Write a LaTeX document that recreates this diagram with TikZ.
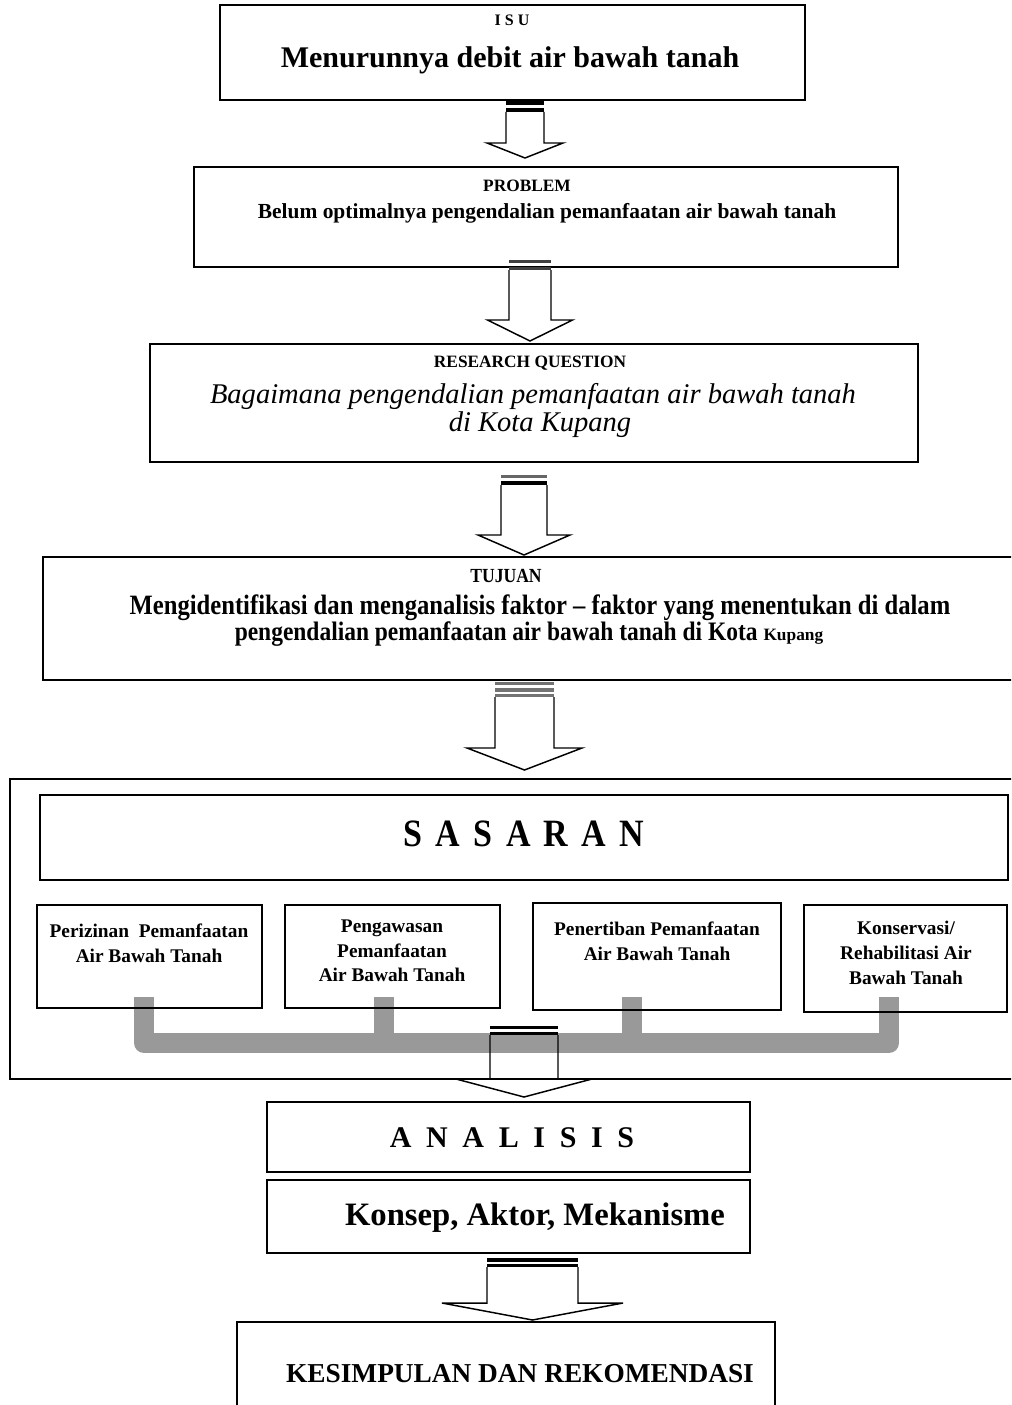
\documentclass[tikz,border=0pt]{standalone}
\usepackage{fontspec}
\setmainfont{Liberation Serif}
\newfontfamily\condserif[FakeStretch=0.88]{Liberation Serif}
\usetikzlibrary{fit,calc}
\definecolor{bracketgray}{RGB}{153,153,153}

% block arrow: centre x, top of shaft, neck, tip, half shaft width, half head width
\newcommand\fatarrow[6]{%
  \draw[arrowline] (#1-#5,#2) -- (#1-#5,#3) -- (#1-#6,#3) -- (#1,#4)
    -- (#1+#6,#3) -- (#1+#5,#3) -- (#1+#5,#2);
}
% thin bars across the top of an arrow shaft
\newcommand\arrowbar[5]{%
  \fill[#5] (#1-#3,#2) rectangle (#1+#3,#4);
}
\newcommand\spaced{\hspace{10pt}}

\begin{document}
\begin{tikzpicture}[x=0.75pt,y=-0.75pt,
  box/.style={draw=black,line width=1.3pt,inner sep=0pt},
  arrowline/.style={draw=black,line width=1.1pt,line join=miter},
  tag/.style={font=\bfseries\fontsize{13}{15}\selectfont},
  subtext/.style={font=\bfseries\fontsize{14.5}{18.5}\selectfont,align=center},
  connector/.style={draw=black,line width=3pt,dash pattern=on 6pt off 5pt},
  bracket/.style={draw=bracketgray,line width=15pt,line join=round},
]
\clip (0,0) rectangle (1011,1405);

% ---------- boxes ----------
\node[box,fit={(220,5) (805,100)}] (isu) {};
\node[tag,font=\bfseries\fontsize{12}{14}\selectfont] (isutag) at (512,20) {I S U};
\node[font=\bfseries\fontsize{22.5}{27}\selectfont] (isutext) at (510,60) {Menurunnya debit air bawah tanah};

\node[box,fit={(194,167) (898,267)}] (prob) {};
\node[tag] (probtag) at (527,186) {PROBLEM};
\node[font=\bfseries\fontsize{16.1}{18}\selectfont] (probtext) at (547,213) {Belum optimalnya pengendalian pemanfaatan air bawah tanah};

\node[box,fit={(150,344) (918,462)}] (rq) {};
\node[tag] (rqtag) at (530,363) {RESEARCH QUESTION};
\node[font=\itshape\fontsize{21.4}{25}\selectfont] (rqone) at (533,396) {Bagaimana pengendalian pemanfaatan air bawah tanah};
\node[font=\itshape\fontsize{21.4}{25}\selectfont] (rqtwo) at (540,425) {di Kota Kupang};

\node[box,fit={(43,557) (1030,680)}] (tuj) {};
\node[tag,font=\condserif\bfseries\fontsize{15}{17}\selectfont] (tujtag) at (506,576) {TUJUAN};
\node[font=\condserif\bfseries\fontsize{21}{24}\selectfont] (tujone) at (540,608)
  {Mengidentifikasi dan menganalisis faktor – faktor yang menentukan di dalam};
\node[font=\condserif\bfseries\fontsize{20}{24}\selectfont] (tujtwo) at (529,634)
  {pengendalian pemanfaatan air bawah tanah di Kota {\normalfont\bfseries\fontsize{13}{16}\selectfont Kupang}};

% ---------- sasaran frame ----------
\node[draw=black,line width=1.1pt,inner sep=0pt,fit={(10,779) (1030,1079)}] (frame) {};
\node[box,fit={(40,795) (1008,880)}] (sas) {};
\node[font=\condserif\bfseries\fontsize{29}{32}\selectfont] (sastext) at (524,834)
  {S\spaced A\spaced S\spaced A\spaced R\spaced A\spaced N};

% gray bracket joining the four targets (drawn beneath the boxes)
\coordinate (k1) at (144,997);
\coordinate (k2) at (383.5,997);
\coordinate (k3) at (632,997);
\coordinate (k4) at (889,997);
\draw[bracket] (k1) -- (k1 |- 0,1043) -- (k4 |- 0,1043) -- (k4);
\draw[bracket] (k2) -- (k2 |- 0,1043);
\draw[bracket] (k3) -- (k3 |- 0,1043);

\node[box,line width=1.1pt,fit={(37,905) (262,1008)}] (b1) {};
\node[box,line width=1.1pt,fit={(285,905) (500,1008)}] (b2) {};
\node[box,line width=1.1pt,fit={(533,903) (781,1010)}] (b3) {};
\node[box,line width=1.1pt,fit={(804,905) (1007,1012)}] (b4) {};

\node[subtext] (b1text) at (149,943) {Perizinan\ \ Pemanfaatan\\Air Bawah Tanah};
\node[subtext] (b2text) at (392,951) {Pengawasan\\Pemanfaatan\\Air Bawah Tanah};
\node[subtext] (b3text) at (657,941) {Penertiban Pemanfaatan\\Air Bawah Tanah};
\node[subtext] (b4text) at (906,953) {Konservasi/\\Rehabilitasi Air\\Bawah Tanah};

% dotted links from SASARAN to each target
\draw[connector] ($(b1.north)+(-14,0)$) -- ($(b1.north)+(-14,0)$ |- sas.south);
\draw[connector] ($(b2.north)+(-7,0)$) -- ($(b2.north)+(-7,0)$ |- sas.south);
\draw[connector] ($(b3.north)+(-17,0)$) -- ($(b3.north)+(-17,0)$ |- sas.south);
\draw[connector] ($(b4.north)+(-15,0)$) -- ($(b4.north)+(-15,0)$ |- sas.south);

% ---------- lower boxes ----------
\node[box,fit={(267,1102) (750,1172)}] (ana) {};
\node[font=\bfseries\fontsize{22.5}{26}\selectfont] (anatext) at (512,1138)
  {A\hspace{11pt}N\hspace{11pt}A\hspace{11pt}L\hspace{11pt}I\hspace{11pt}S\hspace{11pt}I\hspace{11pt}S};
\node[box,fit={(267,1180) (750,1253)}] (kon) {};
\node[font=\bfseries\fontsize{24.5}{28}\selectfont] (kontext) at (535,1218) {Konsep, Aktor, Mekanisme};
\node[box,fit={(237,1322) (775,1420)}] (kes) {};
\node[font=\bfseries\fontsize{20.5}{24}\selectfont] (kestext) at (520,1374) {KESIMPULAN DAN REKOMENDASI};

% ---------- block arrows ----------
% isu -> prob
\arrowbar{525}{101}{19}{105}{black}
\arrowbar{525}{108}{19}{112}{black}
\fatarrow{525}{112}{143}{158}{19}{38}
% prob -> rq
\arrowbar{530}{260}{21}{263}{black!75}
\arrowbar{530}{267}{21}{270}{black!75}
\fatarrow{530}{270}{320}{341}{21}{42.5}
% rq -> tuj
\arrowbar{524}{475}{23}{478}{black!60}
\arrowbar{524}{481}{23}{485}{black}
\fatarrow{524}{485}{535}{555}{23}{46}
% tuj -> frame
\arrowbar{524.5}{682}{29.5}{685}{black!55}
\arrowbar{524.5}{688}{29.5}{692}{black!55}
\arrowbar{524.5}{694}{29.5}{697}{black!55}
\fatarrow{524.5}{697}{748}{770}{29.5}{57.5}
% bracket -> ana
\arrowbar{524}{1026}{34}{1029}{black}
\arrowbar{524}{1032}{34}{1035}{black}
\fatarrow{524}{1035}{1079}{1097}{34}{68}
% kon -> kes
\arrowbar{532.5}{1258}{45.5}{1262}{black}
\arrowbar{532.5}{1264}{45.5}{1267}{black}
\fatarrow{532.5}{1267}{1303}{1320}{45.5}{90.5}
\end{tikzpicture}
\end{document}
